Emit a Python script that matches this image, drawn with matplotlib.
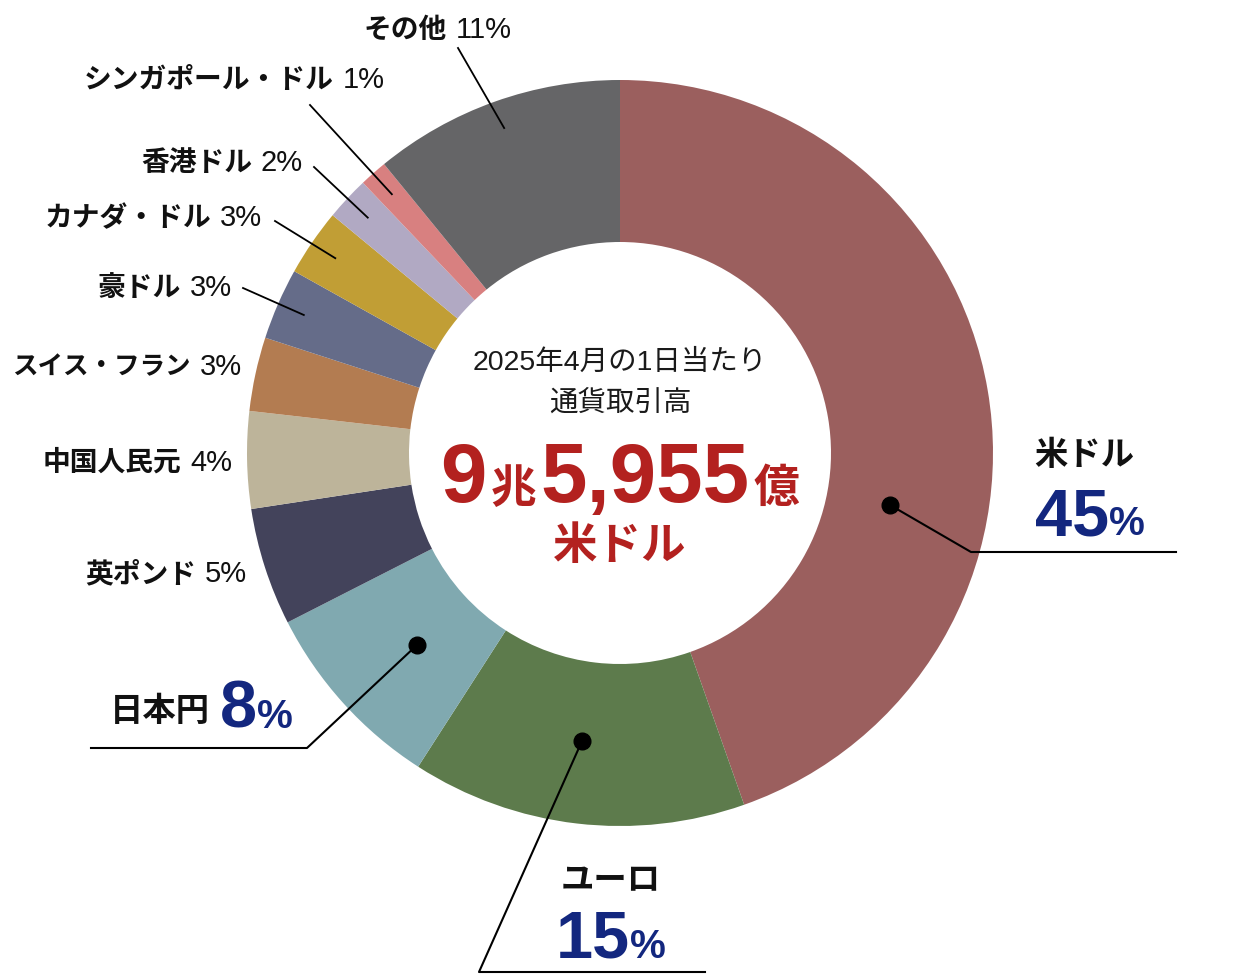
import numpy as np
import matplotlib.pyplot as plt

plt.rcParams['font.family'] = ['Noto Sans CJK JP', 'DejaVu Sans']

# data (slice sizes read from the ring, labels as printed)
currencies = ['米ドル', 'ユーロ', '日本円', '英ポンド', '中国人民元', 'スイス・フラン',
              '豪ドル', 'カナダ・ドル', '香港ドル', 'シンガポール・ドル', 'その他']
shares = [44.6, 14.5, 8.4, 5.1, 4.2, 3.2, 3.1, 2.9, 1.9, 1.2, 10.9]
label_pcts = [45, 15, 8, 5, 4, 3, 3, 3, 2, 1, 11]
colors = ['#9B5F5E', '#5D7B4C', '#80A9B0', '#43435B', '#BDB49A', '#B37C51',
          '#656C89', '#C19E35', '#B1A9C3', '#D88080', '#656567']
center_title = ['2025年4月の1日当たり', '通貨取引高']
total_parts = ['9', '兆', '5,955', '億']
total_unit = '米ドル'

RED = '#B3211F'
NAVY = '#13277F'
W, H = 1240, 980
CX, CY = 620, 453
R_OUT, R_IN = 373, 211
NUM_FONT = ['Liberation Sans', 'Noto Sans CJK JP']


def Y(y):
    # picture rows -> axes y
    return H - y


fig = plt.figure(figsize=(12.4, 9.8), dpi=100)
ax = fig.add_axes([0, 0, 1, 1])
ax.pie(shares, colors=colors, startangle=90, counterclock=False,
       radius=R_OUT, center=(CX, Y(CY)),
       wedgeprops=dict(width=R_OUT - R_IN, linewidth=0))
ax.set_xlim(0, W)
ax.set_ylim(0, H)
ax.axis('off')
renderer = fig.canvas.get_renderer()

fracs = np.array(shares) / sum(shares)
starts = 90 - 360 * np.concatenate([[0], np.cumsum(fracs)[:-1]])
mids = starts - 180 * fracs


def width_of(t):
    return t.get_window_extent(renderer).width


# small labels: (right edge, row)
small_layout = {3: (247, 574), 4: (232, 463), 5: (242, 367), 6: (232, 288),
                7: (262, 218), 8: (303, 163), 9: (385, 80), 10: (512, 30)}
leader_ends = {6: (243, 288), 7: (275, 221), 8: (314, 167), 9: (310, 105), 10: (458, 48)}

for i, (xr, yr) in small_layout.items():
    p = ax.text(xr, Y(yr), f'{label_pcts[i]}%', fontsize=21, family=NUM_FONT,
                ha='right', va='center', color='#111111')
    xn = xr - width_of(p) - 9
    n = ax.text(xn, Y(yr), currencies[i], fontsize=20, fontweight='bold',
                ha='right', va='center', color='#111111')
    # keep long names inside the left edge
    if xn - width_of(n) < 12:
        n.set_fontsize(20 * (xn - 12) / width_of(n))
    if i in leader_ends:
        a = np.radians(mids[i])
        x0, y0 = CX + 345 * np.cos(a), Y(CY) + 345 * np.sin(a)
        x1, y1 = leader_ends[i]
        ax.plot([x1, x0], [Y(y1), y0], color='black', lw=1.3)

# big labels: dot, elbow, line end x
big_leaders = {0: ((890, 505), (971, 552), 1176),
               1: ((582, 741), (479, 972), 705),
               2: ((417, 645), (307, 748), 91)}
for i, (dot, elbow, xend) in big_leaders.items():
    ax.plot([dot[0], elbow[0], xend], [Y(dot[1]), Y(elbow[1]), Y(elbow[1])],
            color='black', lw=1.5)
    ax.plot(dot[0], Y(dot[1]), 'o', color='black', ms=12)


def pct_group(x, y_base, pct, align='center'):
    n = ax.text(0, Y(y_base), str(pct), fontsize=48, fontweight='bold',
                family=NUM_FONT, color=NAVY, ha='left', va='baseline')
    s = ax.text(0, Y(y_base), '%', fontsize=29, fontweight='bold',
                family=NUM_FONT, color=NAVY, ha='left', va='baseline')
    wn, ws = width_of(n), width_of(s)
    x0 = x - (wn + ws) / 2 if align == 'center' else x
    n.set_x(x0)
    s.set_x(x0 + wn)


ax.text(1084, Y(455), currencies[0], fontsize=24, fontweight='bold',
        ha='center', va='center', color='#111111')
pct_group(1090, 535, label_pcts[0])
ax.text(611, Y(881), currencies[1], fontsize=24, fontweight='bold',
        ha='center', va='center', color='#111111')
pct_group(611, 958, label_pcts[1])
ax.text(110, Y(712), currencies[2], fontsize=24, fontweight='bold',
        ha='left', va='center', color='#111111')
pct_group(220, 728, label_pcts[2], align='left')

# centre text
ax.text(CX, Y(363), center_title[0], fontsize=20.5, family=NUM_FONT,
        ha='center', va='center', color='#1a1a1a')
ax.text(CX, Y(403), center_title[1], fontsize=20.5,
        ha='center', va='center', color='#1a1a1a')

sizes = [60, 33, 60, 33]
pieces = []
for part, sz in zip(total_parts, sizes):
    pieces.append(ax.text(0, Y(502), part, fontsize=sz, fontweight='bold',
                          family=NUM_FONT, color=RED, ha='left', va='baseline'))
gap = 4
total_w = sum(width_of(t) for t in pieces) + gap * (len(pieces) - 1)
x = CX - total_w / 2
for t in pieces:
    t.set_x(x)
    x += width_of(t) + gap
ax.text(CX, Y(546), total_unit, fontsize=32, fontweight='bold',
        ha='center', va='center', color=RED)

fig.savefig('out.png', dpi=100)
